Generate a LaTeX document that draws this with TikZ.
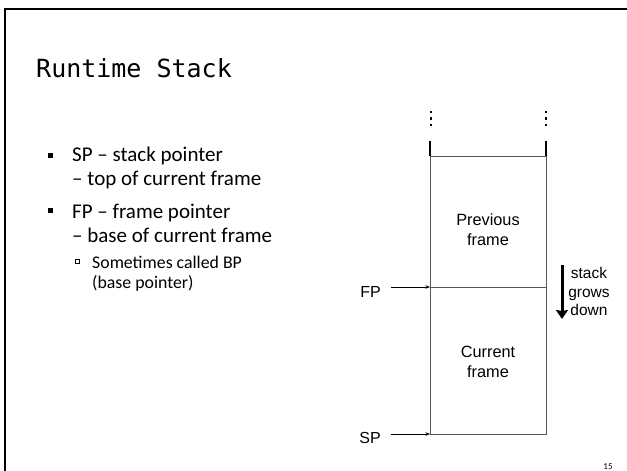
\documentclass[tikz,border=0pt]{standalone}
\usepackage{fontspec}
\setmainfont{Carlito}
\newfontfamily\monof{DejaVu Sans Mono}
\newfontfamily\diagf{Liberation Sans}
\usetikzlibrary{arrows.meta}
\definecolor{boxgray}{HTML}{555555}
\tikzset{
  bodytxt/.style={anchor=base west, inner sep=0pt, font=\fontsize{21}{24}\selectfont},
  subtxt/.style={anchor=base west, inner sep=0pt, font=\fontsize{17.8}{20}\selectfont},
  diagtxt/.style={inner sep=0pt, font=\diagf\fontsize{16.3}{20}\selectfont, align=center},
  ptrlbl/.style={anchor=base east, inner sep=0pt, font=\diagf\fontsize{16}{19}\selectfont},
  growtxt/.style={anchor=base, inner sep=0pt, font=\diagf\fontsize{15.5}{18}\selectfont},
  boxline/.style={draw=boxgray, line width=0.9pt},
  stubline/.style={draw=black, line width=1.3pt},
  ptrarrow/.style={draw=black, line width=0.6pt, -{Stealth[length=4.5pt,width=3.5pt]}},
  growarrow/.style={draw=black, line width=3pt, -{Stealth[length=9pt,width=12pt,inset=1pt]}},
  dotmark/.style={rectangle, fill=black, inner sep=0pt, minimum size=2.3pt},
  fillbullet/.style={rectangle, fill=black, inner sep=0pt, minimum size=5pt},
  openbullet/.style={rectangle, draw=black, line width=0.5pt, inner sep=0pt, minimum size=3.8pt},
}
\begin{document}
\begin{tikzpicture}[x=1pt,y=-1pt]
\useasboundingbox (0,0) rectangle (627,471);
\fill[white] (0,0) rectangle (627,471);
% slide frame (top and left edge)
\coordinate (frtl) at (5,9);
\coordinate (frtr) at (627,9);
\coordinate (frbl) at (5,471);
\draw[line width=2.2pt, black] (frtr) -- (frtl) -- (frbl);
% title
\node[anchor=base west, inner sep=0pt, font=\monof\fontsize{25}{30}\selectfont] (title) at (36,77) {Runtime Stack};
% bullets
\node[fillbullet] (b1) at (50.5,155) {};
\node[bodytxt] (t1) at (72,161) {SP – stack pointer};
\node[bodytxt] (t1b) at (72,185) {– top of current frame};
\node[fillbullet] (b2) at (50.5,210.5) {};
\node[bodytxt] (t2) at (72,218) {FP – frame pointer};
\node[bodytxt] (t2b) at (72,242) {– base of current frame};
\node[openbullet] (b3) at (77,261) {};
\node[subtxt] (t3) at (92,268) {Sometimes called BP};
\node[subtxt] (t3b) at (92,288) {(base pointer)};
% stack box
\coordinate (stl) at (430,141);
\coordinate (str) at (546,141);
\coordinate (tl) at (430,156);
\coordinate (tr) at (546,156);
\coordinate (ml) at (430,287);
\coordinate (mr) at (546,287);
\coordinate (bl) at (430,434);
\coordinate (br) at (546,434);
\draw[stubline] (stl) -- (tl);
\draw[stubline] (str) -- (tr);
\draw[boxline] (tl) -- (bl) -- (br) -- (tr) -- cycle;
\draw[boxline] (ml) -- (mr);
% continuation dots
\foreach \x/\n in {431/l,546/r}{
  \node[dotmark] (d1\n) at (\x,112) {};
  \node[dotmark] (d2\n) at (\x,118.5) {};
  \node[dotmark] (d3\n) at (\x,125) {};
}
% frame labels
\node[diagtxt] (prev) at (488,230) {Previous\\frame};
\node[diagtxt] (curr) at (488,362) {Current\\frame};
% pointers
\node[ptrlbl] (fp) at (381,297) {FP};
\node[ptrlbl] (sp) at (381,443) {SP};
\coordinate (fpstart) at (391,287);
\coordinate (spstart) at (391,434);
\draw[ptrarrow] (fpstart) -- (ml);
\draw[ptrarrow] (spstart) -- (bl);
% stack grows down
\coordinate (gtop) at (562,265);
\coordinate (gbot) at (562,319);
\draw[growarrow] (gtop) -- (gbot);
\node[growtxt] (g1) at (589,278) {stack};
\node[growtxt] (g2) at (589,297) {grows};
\node[growtxt] (g3) at (589,315) {down};
% page number
\node[anchor=base, inner sep=0pt, font=\fontsize{9}{10}\selectfont] (pg) at (608,469) {15};
\end{tikzpicture}
\end{document}
